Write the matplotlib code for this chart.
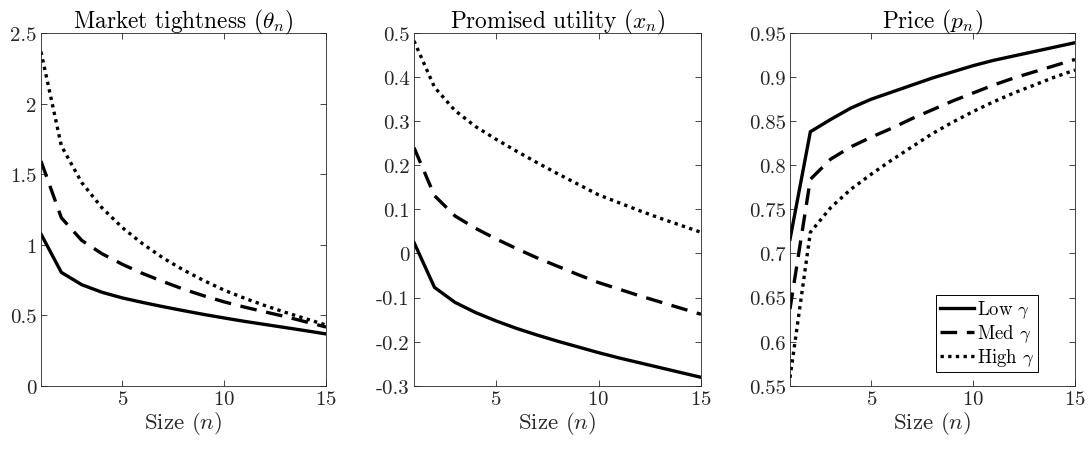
import numpy as np
import matplotlib
matplotlib.use("Agg")
import matplotlib.pyplot as plt
from matplotlib.ticker import FuncFormatter

plt.rcParams['font.family'] = ['cmr10', 'DejaVu Serif']
plt.rcParams['mathtext.fontset'] = 'cm'
plt.rcParams['axes.unicode_minus'] = False
plt.rcParams['axes.formatter.use_mathtext'] = True

n = np.arange(1, 16)

# market tightness theta_n
theta_low = [1.075, 0.803, 0.716, 0.662, 0.622, 0.59, 0.56, 0.532, 0.505,
             0.48, 0.456, 0.434, 0.412, 0.39, 0.367]
theta_med = [1.592, 1.19, 1.03, 0.935, 0.86, 0.795, 0.738, 0.684, 0.637,
             0.594, 0.557, 0.523, 0.49, 0.453, 0.416]
theta_high = [2.367, 1.70, 1.44, 1.26, 1.12, 1.005, 0.905, 0.82, 0.745,
              0.677, 0.62, 0.568, 0.52, 0.475, 0.43]

# promised utility x_n
x_low = [0.025, -0.077, -0.111, -0.134, -0.153, -0.170, -0.185, -0.199, -0.212,
         -0.225, -0.237, -0.248, -0.259, -0.270, -0.281]
x_med = [0.24, 0.131, 0.085, 0.057, 0.033, 0.011, -0.010, -0.029, -0.048,
         -0.066, -0.081, -0.096, -0.110, -0.124, -0.138]
x_high = [0.482, 0.377, 0.324, 0.288, 0.259, 0.232, 0.206, 0.181, 0.157,
          0.133, 0.115, 0.097, 0.080, 0.064, 0.048]

# price p_n
p_low = [0.716, 0.838, 0.852, 0.865, 0.875, 0.883, 0.891, 0.899, 0.906,
         0.913, 0.919, 0.924, 0.929, 0.934, 0.939]
p_med = [0.637, 0.784, 0.807, 0.821, 0.832, 0.842, 0.853, 0.863, 0.873,
         0.882, 0.891, 0.899, 0.906, 0.913, 0.920]
p_high = [0.559, 0.724, 0.752, 0.773, 0.790, 0.806, 0.821, 0.836, 0.849,
          0.861, 0.872, 0.882, 0.891, 0.900, 0.908]

titles = [r'Market tightness $(\theta_n)$', r'Promised utility $(x_n)$', r'Price $(p_n)$']
labels = [r'Low $\gamma$', r'Med $\gamma$', r'High $\gamma$']
ylims = [(0, 2.5), (-0.3, 0.5), (0.55, 0.95)]
yticks = [np.arange(0, 2.51, 0.5), np.arange(-0.3, 0.51, 0.1), np.arange(0.55, 0.951, 0.05)]

fig = plt.figure(figsize=(10.9, 4.56), dpi=100)
lefts = [41, 414, 790]
widths = [285, 287, 285]
axes = [fig.add_axes([l / 1090, 1 - 386.7 / 456, w / 1090, 352.7 / 456]) for l, w in zip(lefts, widths)]

data = [(theta_low, theta_med, theta_high), (x_low, x_med, x_high), (p_low, p_med, p_high)]
gray = '#262626'
lw = 2.4

fmt = FuncFormatter(lambda v, pos: ('%g' % round(v, 4)))

for ax, d, t, yl, yt in zip(axes, data, titles, ylims, yticks):
    l1, = ax.plot(n, d[0], color='k', lw=lw, solid_joinstyle='miter')
    l2, = ax.plot(n, d[1], color='k', lw=lw, dashes=(5.0, 2.9), dash_capstyle='butt')
    l3, = ax.plot(n, d[2], color='k', lw=lw, dashes=(1.0, 1.3), dash_capstyle='butt')
    ax.set_xlim(1, 15)
    ax.set_ylim(*yl)
    ax.set_xticks([5, 10, 15])
    ax.set_yticks(yt)
    ax.yaxis.set_major_formatter(fmt)
    ax.tick_params(direction='in', top=True, right=True, length=4, width=0.6,
                   labelsize=15, colors=gray, pad=3)
    for s in ax.spines.values():
        s.set_color(gray)
        s.set_linewidth(0.6)
    ax.set_title(t, fontsize=16.8, color='k', pad=4)
    ax.set_xlabel(r'Size $(n)$', fontsize=16.5, color=gray, labelpad=1)

leg = axes[2].legend([l1, l2, l3], labels, loc='lower right', bbox_to_anchor=(0.87, 0.039),
                     borderaxespad=0, fontsize=13.5, handlelength=1.8, handletextpad=0.15,
                     labelspacing=0.12, borderpad=0.2, fancybox=False, framealpha=1,
                     edgecolor='k')
leg.get_frame().set_linewidth(0.7)

fig.savefig('out.png', dpi=100)
